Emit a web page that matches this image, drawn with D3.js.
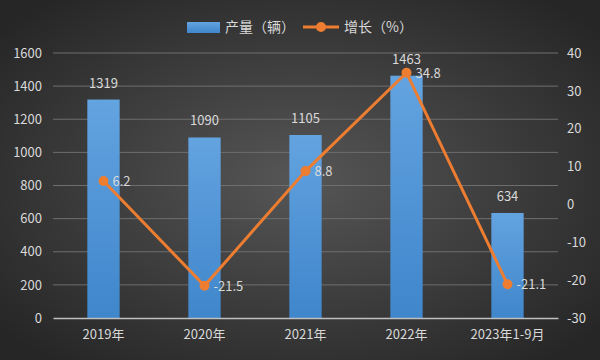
<!DOCTYPE html>
<html>
<head>
<meta charset="utf-8">
<script src="https://cdn.jsdelivr.net/npm/d3@7"></script>
<style>
  body { margin: 0; background: #2a2a2a; }
  text { font-family: "Noto Sans CJK SC", "Open Sans", sans-serif; }
</style>
</head>
<body>
<div id="chart"></div>
<script>
var categories = ["2019年", "2020年", "2021年", "2022年", "2023年1-9月"];
var output = [1319, 1090, 1105, 1463, 634];
var growth = [6.2, -21.5, 8.8, 34.8, -21.1];
var leftTicks = [0, 200, 400, 600, 800, 1000, 1200, 1400, 1600];
var rightTicks = [-30, -20, -10, 0, 10, 20, 30, 40];

var max_w = 600;
var max_h = 360;
var margin = {top: 53, right: 42, bottom: 42, left: 53};
var width = max_w - margin.left - margin.right;
var height = max_h - margin.top - margin.bottom;

var x = d3.scaleBand()
        .domain(categories)
        .range([0, width])
        .paddingInner(0.68)
        .paddingOuter(0.34);

var y = d3.scaleLinear()
          .domain([0, 1600])
          .range([height, 0]);

var y2 = d3.scaleLinear()
          .domain([-30, 40])
          .range([height, 0]);

var root = d3.select("#chart")
.append("svg")
  .attr("width", max_w)
  .attr("height", max_h);

var defs = root.append("defs");
var bg = defs.append("radialGradient").attr("id", "bg")
  .attr("cx", "50%").attr("cy", "50%").attr("r", "65%");
bg.append("stop").attr("offset", "0%").attr("stop-color", "#565656");
bg.append("stop").attr("offset", "100%").attr("stop-color", "#262626");

var barGrad = defs.append("linearGradient").attr("id", "bar")
  .attr("x1", 0).attr("y1", 0).attr("x2", 0).attr("y2", 1);
barGrad.append("stop").attr("offset", "0%").attr("stop-color", "#63a3e0");
barGrad.append("stop").attr("offset", "100%").attr("stop-color", "#3f86cb");

root.append("rect")
  .attr("width", max_w).attr("height", max_h)
  .attr("fill", "url(#bg)");

var svg = root.append("g")
  .attr("transform", "translate(" + margin.left + "," + margin.top + ")");

// gridlines
svg.append("g")
  .selectAll("line")
  .data(leftTicks.slice(1))
  .join("line")
  .attr("x1", 0).attr("x2", width)
  .attr("y1", d => y(d)).attr("y2", d => y(d))
  .attr("stroke", "#6e6e6e").attr("stroke-width", 1);

// left axis
var gl = svg.append("g")
 .call(d3.axisLeft(y).tickValues(leftTicks).tickFormat(d => String(d))
   .tickSize(0).tickPadding(11));
gl.select(".domain").remove();

// right axis
var gr = svg.append("g")
 .attr("transform", "translate(" + width + ",0)")
 .call(d3.axisRight(y2).tickValues(rightTicks).tickFormat(d => String(d))
   .tickSize(0).tickPadding(9));
gr.select(".domain").remove();

svg.selectAll(".tick text")
  .attr("fill", "#d9d9d9")
  .style("font-size", "13px");

// bars
svg.append("g")
  .selectAll("rect")
  .data(output)
  .join("rect")
  .attr("x", (d, i) => x(categories[i]))
  .attr("y", d => y(d))
  .attr("width", x.bandwidth())
  .attr("height", d => height - y(d))
  .attr("fill", "url(#bar)");

// baseline / x axis
var gx = svg.append("g")
 .attr("transform", "translate(0," + height + ")")
 .call(d3.axisBottom(x).tickSize(0).tickPadding(12));
gx.select(".domain").attr("stroke", "#bfbfbf").attr("stroke-width", 1.5);
gx.selectAll("text").attr("fill", "#d9d9d9").style("font-size", "13px");

// bar labels
svg.append("g")
  .selectAll("text")
  .data(output)
  .join("text")
  .attr("x", (d, i) => x(categories[i]) + x.bandwidth() / 2)
  .attr("y", d => y(d) - 12)
  .attr("text-anchor", "middle")
  .attr("fill", "#d9d9d9")
  .style("font-size", "13px")
  .text(d => d);

// growth line
var cx = (d, i) => x(categories[i]) + x.bandwidth() / 2;
var line = d3.line()
  .x((d, i) => cx(d, i))
  .y(d => y2(d));

svg.append("path")
  .datum(growth)
  .attr("d", line)
  .attr("fill", "none")
  .attr("stroke", "#ed7d31")
  .attr("stroke-width", 3);

svg.append("g")
  .selectAll("circle")
  .data(growth)
  .join("circle")
  .attr("cx", cx)
  .attr("cy", d => y2(d))
  .attr("r", 5)
  .attr("fill", "#ed7d31");

svg.append("g")
  .selectAll("text")
  .data(growth)
  .join("text")
  .attr("x", (d, i) => cx(d, i) + 9)
  .attr("y", d => y2(d) + 5)
  .attr("fill", "#d9d9d9")
  .style("font-size", "13px")
  .text(d => d);

// legend
var lg = root.append("g").attr("transform", "translate(0,27)");
lg.append("rect")
  .attr("x", 187).attr("y", -5).attr("width", 33).attr("height", 11)
  .attr("fill", "url(#bar)");
lg.append("text")
  .attr("x", 225).attr("y", 5)
  .attr("fill", "#d9d9d9").style("font-size", "14px")
  .text("产量（辆）");
lg.append("line")
  .attr("x1", 303).attr("x2", 339).attr("y1", 0).attr("y2", 0)
  .attr("stroke", "#ed7d31").attr("stroke-width", 3);
lg.append("circle")
  .attr("cx", 321).attr("cy", 0).attr("r", 5).attr("fill", "#ed7d31");
lg.append("text")
  .attr("x", 344).attr("y", 5)
  .attr("fill", "#d9d9d9").style("font-size", "14px")
  .text("增长（%）");
</script>
</body>
</html>
